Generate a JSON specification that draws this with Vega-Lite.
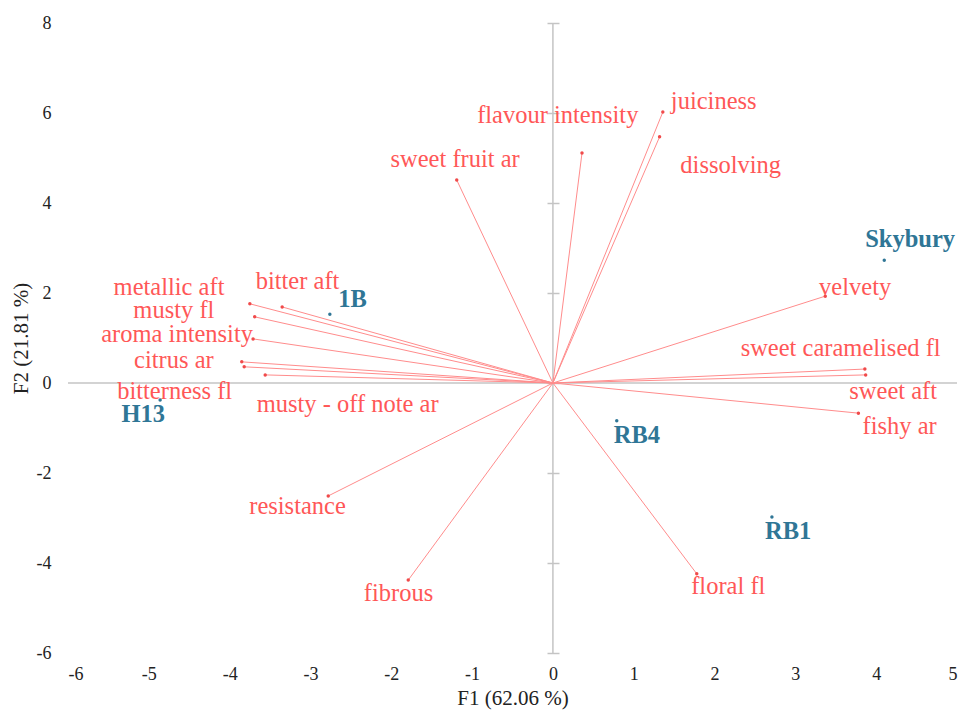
{
  "$schema": "https://vega.github.io/schema/vega-lite/v6.json",
  "width": 889,
  "height": 630,
  "autosize": {"type": "none"},
  "padding": {"left": 68, "top": 23, "right": 6, "bottom": 60},
  "background": "white",
  "config": {"view": {"stroke": null}, "font": "Liberation Serif"},
  "datasets": {
    "variables": [
      {"name": "juiciness", "F1": 1.36, "F2": 6.02, "lx": 1.99, "ly": 6.24},
      {"name": "dissolving", "F1": 1.32, "F2": 5.47, "lx": 2.2, "ly": 4.82},
      {"name": "flavour intensity", "F1": 0.36, "F2": 5.11, "lx": 0.06, "ly": 5.93},
      {"name": "sweet fruit ar", "F1": -1.19, "F2": 4.51, "lx": -1.21, "ly": 4.96},
      {"name": "velvety", "F1": 3.37, "F2": 1.93, "lx": 3.74, "ly": 2.11},
      {"name": "sweet caramelised fl", "F1": 3.86, "F2": 0.31, "lx": 3.56, "ly": 0.76},
      {"name": "sweet aft", "F1": 3.87, "F2": 0.18, "lx": 4.21, "ly": -0.2},
      {"name": "fishy ar", "F1": 3.78, "F2": -0.67, "lx": 4.29, "ly": -0.98},
      {"name": "floral fl", "F1": 1.78, "F2": -4.24, "lx": 2.17, "ly": -4.53},
      {"name": "fibrous", "F1": -1.79, "F2": -4.38, "lx": -1.91, "ly": -4.69},
      {"name": "resistance", "F1": -2.78, "F2": -2.51, "lx": -3.16, "ly": -2.76},
      {"name": "metallic aft", "F1": -3.75, "F2": 1.76, "lx": -4.75, "ly": 2.11},
      {"name": "bitter aft", "F1": -3.35, "F2": 1.69, "lx": -3.16, "ly": 2.24},
      {"name": "musty fl", "F1": -3.69, "F2": 1.47, "lx": -4.69, "ly": 1.6},
      {"name": "aroma intensity", "F1": -3.71, "F2": 0.98, "lx": -4.65, "ly": 1.07},
      {"name": "citrus ar", "F1": -3.85, "F2": 0.47, "lx": -4.69, "ly": 0.49},
      {"name": "bitterness fl", "F1": -3.82, "F2": 0.36, "lx": -4.68, "ly": -0.2},
      {"name": "musty - off note ar", "F1": -3.56, "F2": 0.18, "lx": -2.54, "ly": -0.49}
    ],
    "observations": [
      {"name": "Skybury", "F1": 4.1, "F2": 2.73, "lx": 4.42, "ly": 3.18},
      {"name": "1B", "F1": -2.76, "F2": 1.53, "lx": -2.48, "ly": 1.84},
      {"name": "H13", "F1": -4.86, "F2": -0.38, "lx": -5.07, "ly": -0.71},
      {"name": "RB4", "F1": 0.79, "F2": -0.84, "lx": 1.04, "ly": -1.18},
      {"name": "RB1", "F1": 2.71, "F2": -2.98, "lx": 2.91, "ly": -3.31}
    ]
  },
  "resolve": {"axis": {"y": "independent"}},
  "layer": [
    {
      "data": {"values": [{}]},
      "mark": {"type": "rule", "color": "#c4c4c4", "strokeWidth": 1.5},
      "encoding": {"y": {"datum": 0, "type": "quantitative", "scale": {"domain": [-6, 8], "nice": false, "zero": false}, "axis": {"orient": "left", "title": "F2 (21.81 %)", "values": [-6, -4, -2, 0, 2, 4, 6, 8], "labelExpr": "toString(datum.value)", "ticks": false, "domain": false, "grid": false, "labelFont": "Liberation Serif", "labelFontSize": 18, "labelColor": "#222", "labelPadding": 17, "titleFont": "Liberation Serif", "titleFontSize": 21, "titleFontWeight": "normal", "titleColor": "#222", "titlePadding": 5}}}
    },
    {
      "data": {"values": [{}]},
      "mark": {"type": "rule", "color": "#c4c4c4", "strokeWidth": 1.5},
      "encoding": {"x": {"datum": 0, "type": "quantitative", "scale": {"domain": [-6, 5], "nice": false, "zero": false}, "axis": {"orient": "bottom", "title": "F1 (62.06 %)", "values": [-6, -5, -4, -3, -2, -1, 0, 1, 2, 3, 4, 5], "labelExpr": "toString(datum.value)", "ticks": false, "domain": false, "grid": false, "labelFont": "Liberation Serif", "labelFontSize": 18, "labelColor": "#222", "labelPadding": 12, "titleFont": "Liberation Serif", "titleFontSize": 21, "titleFontWeight": "normal", "titleColor": "#222", "titlePadding": 4}}}
    },
    {
      "data": {"name": "variables"},
      "mark": {"type": "rule", "color": "#ff8c8c", "strokeWidth": 1},
      "encoding": {
        "x": {"field": "F1", "type": "quantitative"},
        "y": {"field": "F2", "type": "quantitative", "axis": {"orient": "left", "offset": -491, "labels": false, "domain": false, "grid": false, "title": null, "tickSize": 12, "tickColor": "#c4c4c4", "tickWidth": 1.5, "values": [-6, -4, -2, 0, 2, 4, 6, 8]}},
        "x2": {"datum": 0},
        "y2": {"datum": 0}
      }
    },
    {
      "data": {"name": "variables"},
      "mark": {"type": "circle", "color": "#f04a4a", "size": 12, "opacity": 1},
      "encoding": {
        "x": {"field": "F1", "type": "quantitative"},
        "y": {"field": "F2", "type": "quantitative", "axis": null}
      }
    },
    {
      "data": {"name": "variables"},
      "mark": {"type": "text", "color": "#ff5757", "font": "Liberation Serif", "fontSize": 24.5, "align": "center", "baseline": "middle"},
      "encoding": {
        "x": {"field": "lx", "type": "quantitative"},
        "y": {"field": "ly", "type": "quantitative", "axis": null},
        "text": {"field": "name"}
      }
    },
    {
      "data": {"name": "observations"},
      "mark": {"type": "circle", "color": "#2f7696", "size": 12, "opacity": 1},
      "encoding": {
        "x": {"field": "F1", "type": "quantitative"},
        "y": {"field": "F2", "type": "quantitative", "axis": null}
      }
    },
    {
      "data": {"name": "observations"},
      "mark": {"type": "text", "color": "#2f7696", "font": "Liberation Serif", "fontSize": 24.5, "fontWeight": "bold", "align": "center", "baseline": "middle"},
      "encoding": {
        "x": {"field": "lx", "type": "quantitative"},
        "y": {"field": "ly", "type": "quantitative", "axis": null},
        "text": {"field": "name"}
      }
    }
  ]
}
